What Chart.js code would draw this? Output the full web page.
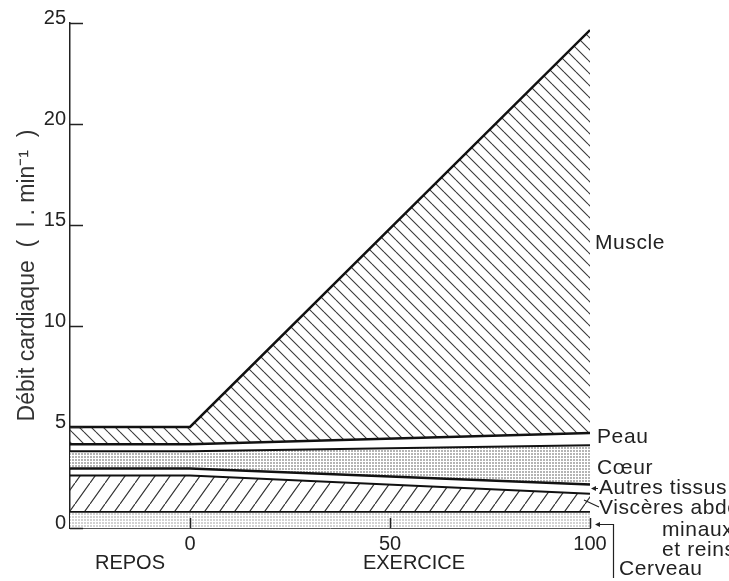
<!DOCTYPE html>
<html lang="fr">
<head>
<meta charset="utf-8">
<title>Débit cardiaque au repos et à l'exercice</title>
<script src="https://cdn.jsdelivr.net/npm/chart.js@4.4.1/dist/chart.umd.min.js"></script>
<style>
  html, body { margin: 0; padding: 0; background: #fff; }
</style>
</head>
<body>
<canvas id="chart" width="729" height="581"></canvas>
<script>
// intensité de l'exercice (%) : -30..0 = repos, 0..100 = exercice
const effort   = [-30, 0, 100];
// débit par organe (l/min), empilé du bas vers le haut
const cerveau  = [0.8, 0.8, 0.8];
const visceres = [1.8, 1.8, 0.9];
const autres   = [0.35, 0.35, 0.45];
const coeur    = [0.85, 0.85, 1.95];
const peau     = [0.35, 0.35, 0.6];
const muscle   = [0.85, 0.85, 19.95];

const yTicks = [0, 5, 10, 15, 20, 25];
const xTicks = [0, 50, 100];
const phaseNames = ['REPOS', 'EXERCICE'];
const organNames = ['Muscle', 'Peau', 'Cœur', 'Autres tissus', 'Viscères abdo-', 'minaux', 'et reins', 'Cerveau'];

const FONT = "'Liberation Sans', Arial, Helvetica, sans-serif";
const INK = '#222';

// ---- fill patterns ----
function hatch(w, h, dir, color, lw) {
  const c = document.createElement('canvas');
  c.width = w; c.height = h;
  const g = c.getContext('2d');
  g.strokeStyle = color;
  g.lineWidth = lw;
  g.beginPath();
  for (let k = -1; k <= 1; k++) {
    if (dir === 'up') {            // "/"
      g.moveTo(0, h + k * h); g.lineTo(w, k * h);
    } else {                       // "\"
      g.moveTo(0, k * h); g.lineTo(w, h + k * h);
    }
  }
  g.stroke();
  return g.createPattern(c, 'repeat');
}

function stipple(size, dot, color) {
  const c = document.createElement('canvas');
  c.width = size; c.height = size;
  const g = c.getContext('2d');
  g.fillStyle = '#fff';
  g.fillRect(0, 0, size, size);
  g.fillStyle = color;
  g.fillRect(0, 0, dot, dot);
  return g.createPattern(c, 'repeat');
}

const muscleFill = hatch(12, 12, 'down', '#3a3a3a', 1.1);
const viscFill = hatch(15, 21, 'up', '#333', 1.2);
const coeurFill = stipple(3, 2, '#b4b4b4');
const cerveauFill = stipple(3, 2, '#d2d2d2');

function pts(arr) {
  return arr.map((v, i) => ({ x: effort[i], y: v }));
}

function band(label, arr, fill, bg, width) {
  return {
    label: label,
    data: pts(arr),
    fill: fill,
    backgroundColor: bg,
    borderColor: '#111',
    borderWidth: width,
    pointRadius: 0,
    tension: 0,
    borderJoinStyle: 'miter'
  };
}

// ---- tick marks drawn inside the plot + annotations ----
const decorPlugin = {
  id: 'decor',
  afterDraw(chart) {
    const { ctx, chartArea, scales } = chart;
    const xs = scales.x, ys = scales.y;
    ctx.save();
    ctx.strokeStyle = INK;
    ctx.lineWidth = 1.5;
    ctx.beginPath();
    yTicks.forEach(v => {
      const y = Math.round(ys.getPixelForValue(v)) + 0.5;
      ctx.moveTo(chartArea.left, y);
      ctx.lineTo(chartArea.left + 13, y);
    });
    xTicks.forEach(v => {
      const x = Math.round(xs.getPixelForValue(v)) + 0.5;
      ctx.moveTo(x, chartArea.bottom);
      ctx.lineTo(x, chartArea.bottom - 10);
    });
    ctx.stroke();

    // phase names under the axis
    ctx.fillStyle = INK;
    ctx.font = '20px ' + FONT;
    ctx.textAlign = 'center';
    ctx.textBaseline = 'middle';
    ctx.fillText(phaseNames[0], xs.getPixelForValue(-15), 563);
    ctx.fillText(phaseNames[1], xs.getPixelForValue(56), 563);

    // organ names on the right
    const x0 = chartArea.right + 7;
    const rows = [
      { i: 0, y: ys.getPixelForValue(14.1), dx: -2 },
      { i: 1, y: 437, dx: 0 },
      { i: 2, y: 468, dx: 0 },
      { i: 3, y: 488, dx: 2 },
      { i: 4, y: 508, dx: 2 },
      { i: 5, y: 530, dx: 65 },
      { i: 6, y: 550, dx: 65 },
      { i: 7, y: 569, dx: 22 }
    ];
    ctx.font = '21px ' + FONT;
    ctx.letterSpacing = '0.6px';
    ctx.textAlign = 'left';
    rows.forEach(r => ctx.fillText(organNames[r.i], x0 + r.dx, r.y));
    ctx.letterSpacing = '0px';

    // leaders
    ctx.lineWidth = 1.2;
    ctx.beginPath();
    ctx.moveTo(x0 + 1, 488.5); ctx.lineTo(chartArea.right + 2, 488.5);
    ctx.moveTo(x0 + 2, 507); ctx.lineTo(chartArea.right - 6, 500);
    ctx.moveTo(x0 + 16.5, 578); ctx.lineTo(x0 + 16.5, 524.5); ctx.lineTo(chartArea.right + 6, 524.5);
    ctx.stroke();
    ctx.beginPath();
    [[chartArea.right + 1, 488.5], [chartArea.right + 5, 524.5]].forEach(([ax, ay]) => {
      ctx.moveTo(ax, ay); ctx.lineTo(ax + 5, ay - 2.5); ctx.lineTo(ax + 5, ay + 2.5); ctx.closePath();
    });
    ctx.fill();
    ctx.restore();
  }
};

new Chart(document.getElementById('chart'), {
  type: 'line',
  data: {
    datasets: [
      band('Cerveau', cerveau, 'origin', cerveauFill, 1.8),
      band('Viscères abdominaux et reins', visceres, '-1', viscFill, 2),
      band('Autres tissus', autres, false, 'transparent', 2.5),
      band('Cœur', coeur, '-1', coeurFill, 2),
      band('Peau', peau, false, 'transparent', 2.5),
      band('Muscle', muscle, '-1', muscleFill, 2.5)
    ]
  },
  options: {
    responsive: false,
    animation: false,
    events: [],
    layout: { padding: { left: 10, right: 139, top: 23, bottom: 0 } },
    plugins: {
      legend: { display: false },
      tooltip: { enabled: false }
    },
    scales: {
      x: {
        type: 'linear',
        min: -30,
        max: 100,
        afterBuildTicks: s => { s.ticks = xTicks.map(v => ({ value: v })); },
        afterFit: s => { s.height = 53; },
        grid: { display: false, drawTicks: false, tickLength: 0 },
        border: { display: true, color: '#555', width: 1 },
        ticks: { color: INK, padding: 4, font: { family: FONT, size: 20 }, maxRotation: 0 }
      },
      y: {
        stacked: true,
        min: 0,
        max: 25,
        afterBuildTicks: s => { s.ticks = yTicks.map(v => ({ value: v })); },
        afterFit: s => { s.width = 60; },
        grid: { display: false, drawTicks: false, tickLength: 0 },
        border: { display: true, color: INK, width: 1.5 },
        ticks: { color: INK, padding: 4, labelOffset: -5, font: { family: FONT, size: 20 } },
        title: {
          display: true,
          text: 'Débit cardiaque  (  l . min⁻¹  )',
          color: '#333',
          font: { family: FONT, size: 23 },
          padding: { top: 4, bottom: 4 }
        }
      }
    }
  },
  plugins: [decorPlugin]
});
</script>
</body>
</html>
